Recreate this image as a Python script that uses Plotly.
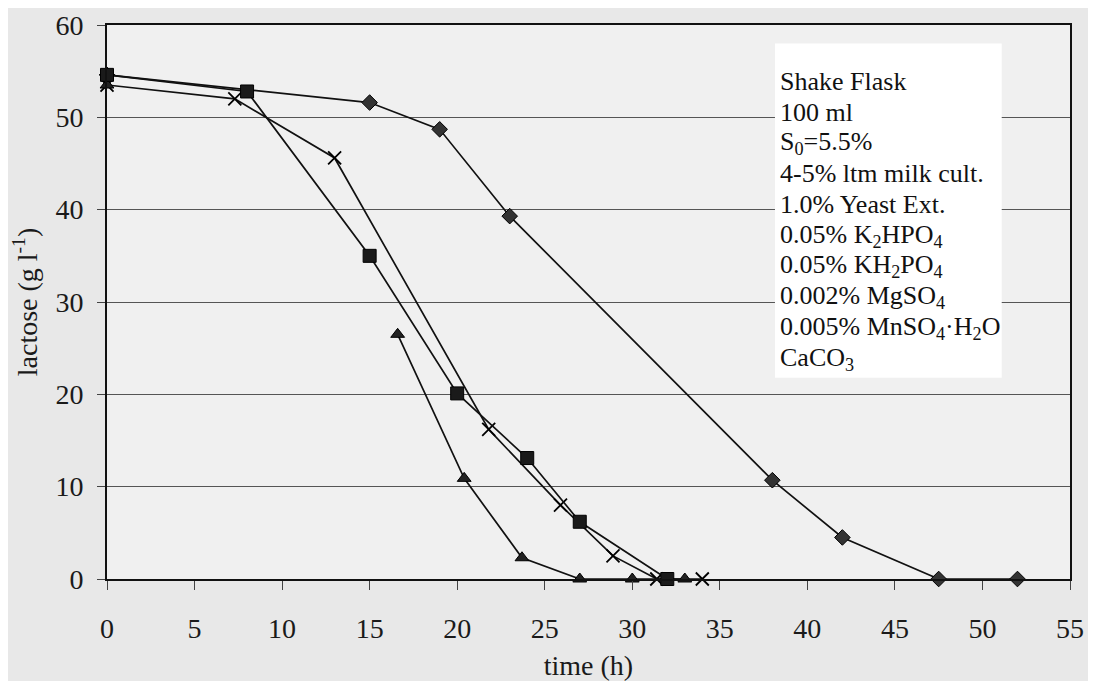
import plotly.graph_objects as go

# Data (time in h, lactose in g/l)
diamond_t = [0, 15, 19, 23, 38, 42, 47.5, 52]
diamond_y = [54.6, 51.6, 48.7, 39.3, 10.7, 4.5, 0, 0]

square_t = [0, 8, 15, 20, 24, 27, 32]
square_y = [54.6, 52.8, 35.0, 20.1, 13.1, 6.2, 0]

cross_t = [0, 7.3, 13, 21.8, 25.9, 28.9, 31.4, 34]
cross_y = [53.5, 52.0, 45.6, 16.2, 8.0, 2.5, 0, 0]

triangle_t = [0, 8, 16.6, 20.4, 23.7, 27, 30, 33]
triangle_y = [53.5, None, 26.5, 10.9, 2.3, 0, 0, 0]

x_ticks = [0, 5, 10, 15, 20, 25, 30, 35, 40, 45, 50, 55]
y_ticks = [0, 10, 20, 30, 40, 50, 60]

note_lines = [
    "Shake Flask",
    "100 ml",
    "S<sub>0</sub>=5.5%",
    "4-5% ltm milk cult.",
    "1.0% Yeast Ext.",
    "0.05% K<sub>2</sub>HPO<sub>4</sub>",
    "0.05% KH<sub>2</sub>PO<sub>4</sub>",
    "0.002% MgSO<sub>4</sub>",
    "0.005% MnSO<sub>4</sub>·H<sub>2</sub>O",
    "CaCO<sub>3</sub>",
]

FONT = "Liberation Serif, Times New Roman, serif"
line_style = dict(color="#111111", width=1.7)

fig = go.Figure()
fig.add_trace(go.Scatter(
    x=diamond_t, y=diamond_y, mode="lines+markers", line=line_style,
    marker=dict(symbol="diamond", size=12, color="#333333", line=dict(color="#000", width=1)),
    cliponaxis=False, showlegend=False))
fig.add_trace(go.Scatter(
    x=cross_t, y=cross_y, mode="lines+markers", line=line_style,
    marker=dict(symbol="x-thin", size=13, color="#000", line=dict(color="#000", width=1.8)),
    cliponaxis=False, showlegend=False))
fig.add_trace(go.Scatter(
    x=triangle_t, y=triangle_y, mode="lines+markers", line=line_style,
    marker=dict(symbol="triangle-up", size=12, color="#222222", line=dict(color="#000", width=1)),
    cliponaxis=False, showlegend=False))
fig.add_trace(go.Scatter(
    x=square_t, y=square_y, mode="lines+markers", line=line_style,
    marker=dict(symbol="square", size=13, color="#1a1a1a", line=dict(color="#000", width=1)),
    cliponaxis=False, showlegend=False))

# white box behind the conditions text (hides gridlines)
fig.add_shape(type="rect", xref="x", yref="y", x0=38.15, x1=51.1, y0=21.8, y1=58.0,
              fillcolor="white", line=dict(width=0), layer="between")

y_first, y_step = 53.9, 3.34
for i, txt in enumerate(note_lines):
    fig.add_annotation(
        xref="x", yref="y", x=38.35, y=y_first - i * y_step,
        xanchor="left", yanchor="middle", text=txt, showarrow=False, align="left",
        font=dict(family=FONT, size=26, color="#111111"))

fig.update_layout(
    width=1080, height=673,
    margin=dict(l=99, r=18, t=17, b=102),
    paper_bgcolor="#e8e8e8",
    plot_bgcolor="#f0f0f0",
    font=dict(family=FONT, size=28, color="#1a1a1a"),
)
fig.update_xaxes(
    range=[0, 55], tickvals=x_ticks, ticks="outside", ticklen=9, tickcolor="#444",
    ticklabelstandoff=14, ticklabeloverflow="allow", automargin=False,
    showgrid=False, zeroline=False, showline=True, linecolor="#111", linewidth=2,
    mirror=True, tickfont=dict(family=FONT, size=28),
    title=dict(text="time (h)", font=dict(family=FONT, size=28), standoff=21))
fig.update_yaxes(
    range=[0, 60], tickvals=y_ticks, ticks="outside", ticklen=8, tickcolor="#444",
    ticklabelstandoff=8, ticklabeloverflow="allow", automargin=False,
    showgrid=True, gridcolor="#555555", gridwidth=1, zeroline=False,
    showline=True, linecolor="#111", linewidth=2, mirror=True,
    tickfont=dict(family=FONT, size=28),
    title=dict(text="lactose (g l<sup>-1</sup>)", font=dict(family=FONT, size=28), standoff=14))

fig.write_html("out.html")
